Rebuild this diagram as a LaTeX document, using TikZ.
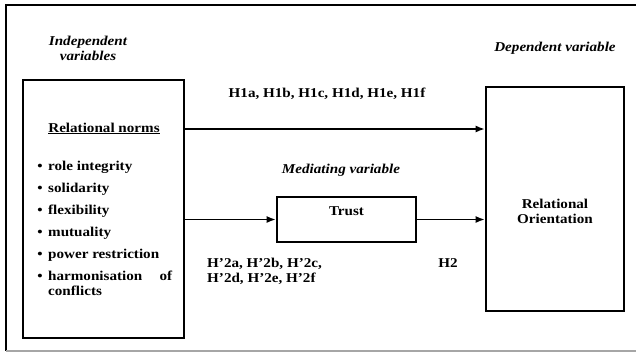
\documentclass[tikz,border=0pt]{standalone}
\usepackage{fontspec}
\setmainfont{Liberation Serif}[FakeStretch=1.12]
\usepackage{tikz}
\usetikzlibrary{arrows.meta}
\usetikzlibrary{positioning}

\begin{document}
\begin{tikzpicture}[x=1pt, y=-1pt,
    every node/.style={font=\fontsize{13.5}{15}\selectfont\bfseries, inner sep=0pt},
    box/.style={draw=black, line width=2.6pt, rectangle},
    heading/.style={font=\fontsize{13.5}{15}\selectfont\bfseries\itshape, align=center},
    arr/.style={line width=1.6pt, -{Latex[length=9pt, width=7pt]}}]
      \useasboundingbox (0,0) rectangle (636,353);
      % Frame around the figure
      \draw[line width=2pt] (636,5) -- (6,5) -- (6,351);
      \draw[line width=1.2pt, gray!70] (6,351) -- (636,351);
      % The three boxes
      \node[box, minimum width=161pt, minimum height=258pt] (norms) at (103.5,209) {};
      \node[box, minimum width=139pt, minimum height=45pt] (trust) at (346.5,219.5) {};
      \node[box, minimum width=138pt, minimum height=224pt] (orient) at (555,199) {};
      % Headings above the boxes
      \node[heading] (indep) at (88,48.5) {Independent\\variables};
      \node[heading] (dep) at (555,48) {Dependent variable};
      \node[heading] (med) at (341,170) {Mediating variable};
      % Contents of the boxes
      \node[anchor=base] (normstitle) at (104,132) {\underline{Relational norms}};
      \foreach \t [count=\i] in {role integrity, solidarity, flexibility, mutuality, power restriction} {
        \node[anchor=base] (dot\i) at (40, 148+22*\i) {\textbullet};
        \node[anchor=base west] (item\i) at (48, 148+22*\i) {\t};
      }
      \node[anchor=base] (dot6) at (40,280) {\textbullet};
      \node[anchor=base west, text width=124pt, align=left] (item6) at (48,280) {harmonisation\hfill of\\conflicts};
      \node (trustlbl) at ([yshift=8.5pt]trust.center) {Trust};
      \node[align=center] (orientlbl) at (555,211) {Relational\\Orientation};
      % Hypotheses
      \node (h1) at (327,94) {H1a, H1b, H1c, H1d, H1e, H1f};
      \node[anchor=west, align=left] (h2prime) at (207,271.5) {H’2a, H’2b, H’2c,\\H’2d, H’2e, H’2f};
      \node (h2) at (448,263) {H2};
      % Arrows
      \coordinate (upper) at (0,129);
      \draw[arr] (norms.east |- upper) -- (orient.west |- upper);
      \draw[arr] (norms.east |- trust.west) -- (trust.west);
      \draw[arr] (trust.east) -- (trust.east -| orient.west);
\end{tikzpicture}
\end{document}
